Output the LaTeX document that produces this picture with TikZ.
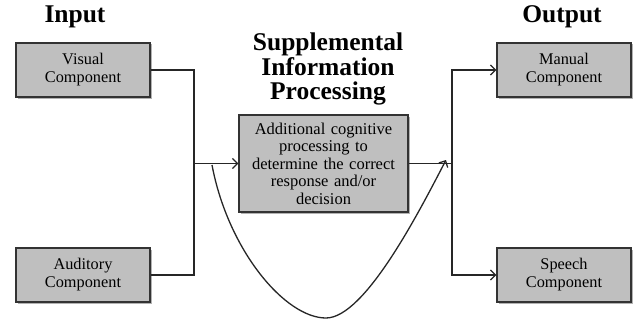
\documentclass[tikz,border=0pt]{standalone}
\usepackage{fontspec}
\setmainfont{Liberation Serif}
\usetikzlibrary{arrows.meta,shadows}
\begin{document}
\begin{tikzpicture}[x=1pt,y=-1pt,
  boxbase/.style={draw=black!80, line width=1.3pt, fill=black!25, align=center,
    drop shadow={shadow xshift=1.5pt, shadow yshift=-1.5pt, fill=black!60, opacity=0.5}},
  comp/.style={boxbase, minimum width=134pt, minimum height=54pt, inner sep=0pt,
    font=\fontsize{16.3}{18}\selectfont},
  procbox/.style={boxbase, minimum width=169pt, minimum height=97pt, inner sep=0pt,
    text width=165pt, font=\fontsize{16.5}{17.5}\selectfont},
  ttl/.style={align=center, font=\fontsize{25.5}{24.5}\selectfont\bfseries},
  wire/.style={draw=black!85, line width=1.3pt},
  arr/.style={wire, -{Straight Barb[length=5pt,width=10pt,line width=1.3pt]}}
]
\useasboundingbox (0,0) rectangle (634,321);

\node[ttl] (tin) at (75,17) {Input};
\node[ttl] (tout) at (562,17) {Output};
\node[ttl] (tsup) at (328,69) {Supplemental\\Information\\Processing};

\node[comp] (vis) at (83,70) {Visual\\Component};
\node[comp] (aud) at (83,275) {Auditory\\Component};
\node[comp] (man) at (564,70) {Manual\\Component};
\node[comp] (sp) at (564,275) {Speech\\Component};
\node[procbox] (proc) at (323.5,163.5) {Additional cognitive\\processing to\\determine the correct\\response and/or\\decision};

\coordinate (lb) at (194,163.5);
\coordinate (rb) at (452,163.5);
\coordinate (cs) at (212,165);
\coordinate (cb) at (326,318);
\coordinate (ce) at (446,160);

\draw[wire] (vis.east) -| (lb);
\draw[wire] (aud.east) -| (lb);
\draw[arr] (lb) -- (proc.west);
\draw[wire] (proc.east) -- (rb);
\draw[arr] (rb) |- (man.west);
\draw[arr] (rb) |- (sp.west);
\draw[arr] (cs) .. controls (228,250) and (285,318) .. (cb)
               .. controls (365,318) and (420,210) .. (ce);
\end{tikzpicture}
\end{document}
